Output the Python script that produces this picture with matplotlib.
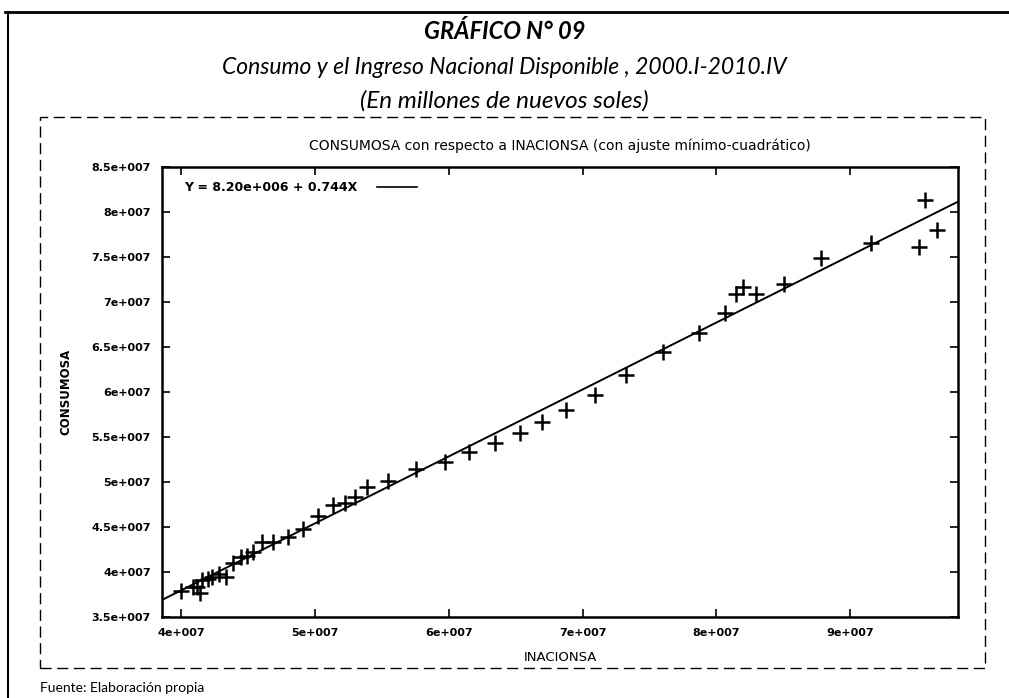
import matplotlib.pyplot as plt
import numpy as np

# INACIONSA (x) and CONSUMOSA (y), 2000.I-2010.IV, millions ->
inacionsa = [39.98, 40.92, 41.19, 41.42, 41.60, 42.01, 42.31, 42.84, 43.36, 43.88,
             44.48, 44.90, 45.41, 46.04, 46.89, 48.01, 49.10, 50.25, 51.34, 52.28,
             53.01, 53.92, 55.50, 57.54, 59.74, 61.49, 63.47, 65.30, 66.94, 68.78,
             70.93, 73.23, 75.99, 78.73, 80.62, 81.47, 81.96, 82.96, 85.07, 87.81,
             91.54, 95.15, 95.57, 96.51]
consumosa = [37.94, 38.37, 38.33, 37.67, 39.11, 39.22, 39.48, 39.78, 39.44, 41.03,
             41.67, 41.83, 42.26, 43.37, 43.33, 43.89, 44.81, 46.19, 47.44, 47.72,
             48.33, 49.41, 50.11, 51.41, 52.26, 53.37, 54.30, 55.41, 56.67, 58.00,
             59.70, 61.85, 64.50, 66.52, 68.74, 70.86, 71.63, 70.89, 72.00, 74.92,
             76.59, 76.14, 81.33, 78.00]

intercept = 8.20e6
slope = 0.744

x_ticks = [4e7, 5e7, 6e7, 7e7, 8e7, 9e7]
x_tick_labels = ['4e+007', '5e+007', '6e+007', '7e+007', '8e+007', '9e+007']
y_ticks = [3.5e7, 4e7, 4.5e7, 5e7, 5.5e7, 6e7, 6.5e7, 7e7, 7.5e7, 8e7, 8.5e7]
y_tick_labels = ['3.5e+007', '4e+007', '4.5e+007', '5e+007', '5.5e+007', '6e+007',
                 '6.5e+007', '7e+007', '7.5e+007', '8e+007', '8.5e+007']

title_font = ['Lato', 'DejaVu Sans']

x = np.array(inacionsa) * 1e6
y = np.array(consumosa) * 1e6

fig = plt.figure(figsize=(10.09, 6.98), dpi=100)
ax = fig.add_axes([0.1606, 0.1160, 0.7889, 0.6447])

xmin, xmax = 3.858e7, 9.806e7
xl = np.array([xmin, xmax])
ax.plot(xl, intercept + slope * xl, color='black', lw=1.4)
ax.plot(x, y, linestyle='none', marker='+', markersize=11, mew=1.8, color='black')

ax.set_xlim(xmin, xmax)
ax.set_ylim(3.5e7, 8.5e7)
ax.set_xticks(x_ticks)
ax.set_xticklabels(x_tick_labels)
ax.set_yticks(y_ticks)
ax.set_yticklabels(y_tick_labels)
ax.tick_params(direction='in', top=True, right=True, length=6, width=1.2,
               labelsize=8, pad=8)
for lab in ax.get_xticklabels() + ax.get_yticklabels():
    lab.set_fontweight('bold')
for s in ax.spines.values():
    s.set_linewidth(1.8)

ax.set_xlabel('INACIONSA', fontsize=9.5, labelpad=9)
ax.set_ylabel('CONSUMOSA', fontsize=8.5, fontweight='bold', labelpad=14)
ax.set_title('CONSUMOSA con respecto a INACIONSA (con ajuste mínimo-cuadrático)',
             fontsize=10, pad=12)

# legend entry as in gnuplot
ax.text(0.028, 0.955, 'Y = 8.20e+006 + 0.744X', transform=ax.transAxes,
        fontsize=9, fontweight='bold', va='center', ha='left')
ax.plot([0.27, 0.32], [0.955, 0.955], transform=ax.transAxes, color='black', lw=1.2)

# headings
fig.text(0.5, 0.955, 'GRÁFICO N° 09', ha='center', va='center', fontsize=17,
         fontweight='bold', style='italic', family=title_font)
fig.text(0.5, 0.904, 'Consumo y el Ingreso Nacional Disponible , 2000.I-2010.IV',
         ha='center', va='center', fontsize=16.5, style='italic', family=title_font)
fig.text(0.5, 0.855, '(En millones de nuevos soles)', ha='center', va='center',
         fontsize=17.5, style='italic', family=title_font)
fig.text(0.04, 0.015, 'Fuente: Elaboración propia', ha='left', va='center',
         fontsize=10, family=title_font)

# frame lines around the figure and the inner graph
fig.add_artist(plt.Line2D([0.005, 1.0], [0.983, 0.983], color='black', lw=2))
fig.add_artist(plt.Line2D([0.008, 0.008], [0.0, 0.983], color='black', lw=1.5))
fig.add_artist(plt.Rectangle((0.04, 0.043), 0.936, 0.79, fill=False,
                             edgecolor='black', lw=1.0, linestyle=(0, (8, 4))))

fig.savefig('out.png', dpi=100)
